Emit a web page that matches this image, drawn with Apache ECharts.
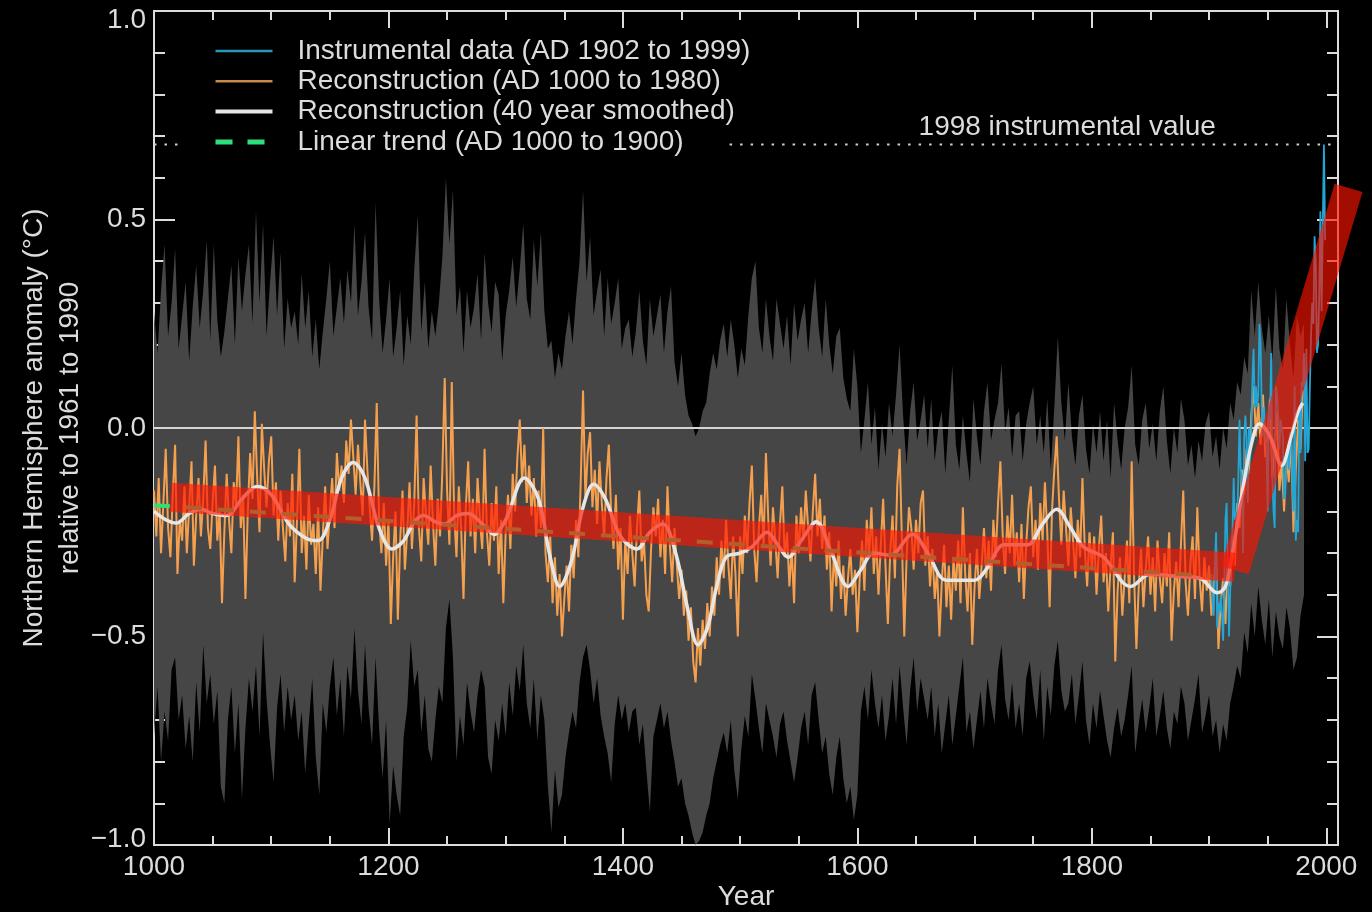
<!DOCTYPE html>
<html>
<head>
<meta charset="utf-8">
<title>Northern Hemisphere temperature reconstruction</title>
<script src="https://cdn.jsdelivr.net/npm/echarts@6/dist/echarts.min.js"></script>
<style>
  html, body { margin: 0; padding: 0; background: #000; }
  #chart { width: 1372px; height: 912px; }
</style>
</head>
<body>
<div id="chart"></div>
<script>
// ---- data -------------------------------------------------------------
const YEAR_MIN = 1000;
const YEAR_MAX = 2010;

// Annual reconstruction, sampled every 2 years from AD 1000 to 1980 (deg C)
const reconStart = 1000;
const reconStep = 2;
const recon = [
  -.15,-.26,-.12,-.30,-.18,-.05,-.24,-.31,-.16,-.04,-.35,-.22,-.27,-.14,-.30,-.19,-.08,-.33,-.21,-.12,-.26,-.17,-.03,-.24,-.29,
  -.18,-.09,-.27,-.20,-.42,-.25,-.11,-.22,-.30,-.13,-.19,-.02,-.24,-.16,-.41,-.20,-.06,-.17,.04,-.12,-.25,.01,-.10,-.19,-.08,
  -.02,-.21,-.13,-.27,-.15,-.24,-.32,-.18,-.26,-.11,-.37,-.22,-.05,-.30,-.21,-.34,-.16,-.28,-.23,-.35,-.19,-.39,-.26,-.14,-.29,
  -.20,-.12,-.24,-.06,-.15,-.09,-.18,-.03,-.11,.02,-.07,-.16,-.04,-.13,-.21,.02,-.10,-.19,-.27,-.14,.06,-.22,-.30,-.18,-.33,
  -.22,-.47,-.31,-.20,-.46,-.27,-.15,-.34,-.25,-.13,-.29,-.18,.03,-.24,-.32,-.12,-.21,-.28,-.09,-.23,-.33,-.17,-.26,-.10,.12,
  -.15,-.28,.11,-.20,-.31,-.14,-.24,-.41,-.19,-.08,-.26,-.17,-.30,-.12,-.22,-.29,-.05,-.25,-.33,-.18,-.27,-.14,-.35,-.22,-.42,
  -.25,-.16,-.29,-.11,-.20,-.07,.02,-.13,-.04,-.18,-.09,-.21,-.12,-.26,-.15,-.24,.00,-.30,-.37,-.26,-.42,-.31,-.45,-.35,-.50,
  -.41,-.33,-.44,-.28,-.36,-.22,-.31,-.13,.09,-.17,-.06,-.01,-.19,-.10,-.23,-.08,-.18,-.26,-.12,-.04,-.21,-.29,-.16,-.34,-.24,
  -.46,-.27,-.35,-.21,-.30,-.38,-.24,-.15,-.32,-.27,-.40,-.44,-.29,-.19,-.26,-.17,-.31,-.22,-.35,-.14,-.28,-.37,-.24,-.33,-.41,
  -.34,-.45,-.39,-.51,-.43,-.56,-.61,-.48,-.57,-.46,-.53,-.42,-.50,-.38,-.45,-.31,-.40,-.27,-.36,-.22,-.33,-.41,-.26,-.35,-.50,
  -.26,-.35,-.21,-.30,-.18,-.09,-.29,-.37,-.24,-.16,-.28,-.06,-.22,-.33,-.19,-.27,-.36,-.23,-.14,-.31,-.25,-.38,-.29,-.42,-.21,
  -.30,-.19,-.27,-.15,-.24,-.32,-.20,-.11,-.26,-.17,-.29,-.21,-.34,-.25,-.44,-.30,-.38,-.27,-.41,-.33,-.45,-.36,-.29,-.40,-.34,
  -.49,-.36,-.27,-.39,-.22,-.31,-.19,-.35,-.26,-.40,-.28,-.17,-.33,-.47,-.30,-.21,-.36,-.14,-.05,-.27,-.50,-.31,-.19,-.24,-.34,
  -.22,-.30,-.18,-.15,-.33,-.26,-.38,-.29,-.41,-.34,-.50,-.37,-.28,-.43,-.33,-.46,-.31,-.39,-.27,-.42,-.19,-.35,-.44,-.30,-.52,
  -.38,-.29,-.41,-.33,-.24,-.36,-.27,-.39,-.22,-.31,-.18,-.08,-.26,-.35,-.21,-.30,-.16,-.33,-.25,-.37,-.23,-.41,-.28,-.19,-.14,
  -.31,-.22,-.34,-.18,-.27,-.13,-.25,-.43,-.20,-.10,-.02,-.17,-.28,-.15,-.24,-.33,-.19,-.27,-.36,-.22,-.31,-.12,-.29,-.38,-.25,
  -.34,-.26,-.40,-.29,-.21,-.37,-.30,-.44,-.33,-.25,-.56,-.39,-.31,-.45,-.36,-.27,-.42,-.08,-.35,-.53,-.38,-.29,-.43,-.34,-.26,
  -.40,-.31,-.44,-.27,-.36,-.42,-.30,-.38,-.25,-.51,-.39,-.32,-.43,-.28,-.15,-.37,-.45,-.33,-.26,-.41,-.19,-.36,-.44,-.31,-.39,
  -.33,-.45,-.38,-.29,-.53,-.42,-.36,-.47,-.31,-.38,-.26,-.33,-.18,-.24,-.10,-.16,-.05,-.11,.03,.10,-.02,.06,-.04,.08,-.07,
  -.01,.07,-.12,-.05,.04,-.15,-.08,-.20,-.06,-.13,-.02,-.25,-.10,.02,-.05,.09
];

// Instrumental record, annual, AD 1902 to 1999 (deg C)
const instrStart = 1902;
const instrumental = [
  -.35,-.42,-.45,-.33,-.25,-.48,-.42,-.44,-.40,-.45,
  -.51,-.38,-.22,-.18,-.35,-.50,-.40,-.28,-.25,-.12,
  -.22,-.20,-.22,-.12,.02,-.10,-.12,-.30,-.02,.03,
  -.03,-.18,.00,-.08,-.02,.12,.19,.05,.10,.05,
  .08,.25,.20,.04,-.02,.05,-.02,-.05,-.20,.05,
  .02,.18,-.12,-.20,-.24,.10,.08,.03,-.05,.02,
  .00,-.02,-.17,-.16,-.06,-.05,-.10,-.01,-.02,-.12,
  -.20,.10,-.27,-.22,-.25,.05,-.06,.11,.10,.18,
  -.08,.19,-.06,-.05,.10,.22,.30,.25,.46,.40,
  .18,.20,.32,.52,.28,.48,.68,.45
];

// 40-year smoothed reconstruction: [year, deg C]
const smoothed = [
  [1000,-.20],[1010,-.22],[1019,-.228],[1030,-.205],[1040,-.195],[1050,-.205],[1062,-.21],[1075,-.17],
  [1088,-.14],[1100,-.16],[1115,-.23],[1130,-.265],[1140,-.27],[1150,-.22],[1160,-.12],[1170,-.083],
  [1180,-.12],[1192,-.24],[1203,-.29],[1213,-.27],[1222,-.225],[1230,-.21],[1240,-.225],[1248,-.23],
  [1258,-.21],[1268,-.205],[1280,-.23],[1290,-.255],[1300,-.22],[1316,-.12],[1328,-.17],[1338,-.31],
  [1346,-.38],[1356,-.32],[1366,-.19],[1375,-.135],[1385,-.17],[1398,-.26],[1412,-.29],[1423,-.25],
  [1434,-.23],[1445,-.30],[1455,-.43],[1464,-.52],[1472,-.48],[1480,-.38],[1488,-.31],[1500,-.30],
  [1510,-.285],[1523,-.25],[1532,-.28],[1541,-.31],[1552,-.27],[1565,-.225],[1578,-.30],[1592,-.38],
  [1603,-.34],[1614,-.30],[1628,-.305],[1647,-.255],[1660,-.30],[1676,-.365],[1700,-.365],[1711,-.335],
  [1725,-.28],[1745,-.28],[1758,-.23],[1770,-.195],[1782,-.24],[1793,-.285],[1810,-.31],[1833,-.38],
  [1850,-.35],[1870,-.355],[1892,-.36],[1907,-.395],[1914,-.38],[1920,-.30],[1928,-.16],[1936,-.04],
  [1943,.01],[1952,-.02],[1962,-.09],[1970,-.02],[1976,.04],[1980,.06]
];

// Uncertainty envelope, sampled every 3 years from AD 1000 (deg C)
const bandStart = 1000;
const bandStep = 3;
const bandUpper = [
  .28,.18,.33,.44,.22,.30,.43,.19,.27,.35,.16,.29,.39,.24,.33,.45,.21,.44,.26,.17,
  .23,.31,.39,.20,.41,.28,.37,.44,.25,.52,.30,.49,.22,.35,.46,.27,.42,.19,.31,.24,
  .28,.20,.37,.24,.33,.17,.26,.14,.23,.31,.40,.22,.29,.36,.25,.38,.30,.49,.27,.35,
  .47,.29,.21,.54,.31,.18,.26,.36,.17,.24,.33,.15,.27,.20,.38,.51,.23,.35,.19,.28,
  .22,.30,.41,.60,.44,.57,.27,.34,.18,.33,.24,.29,.37,.21,.42,.30,.23,.35,.32,.16,
  .27,.33,.41,.29,.38,.49,.31,.26,.45,.34,.47,.28,.19,.21,.12,.18,.14,.22,.28,.20,
  .31,.40,.57,.35,.46,.27,.33,.38,.22,.36,.25,.30,.36,.19,.24,.26,.17,.23,.33,.21,
  .15,.31,.22,.27,.32,.18,.28,.34,.16,.10,.18,.08,.03,.01,-.02,.00,.04,.06,.13,.18,
  .14,.21,.25,.17,.26,.20,.12,.19,.15,.27,.36,.40,.24,.18,.31,.22,.16,.31,.25,.19,
  .27,.15,.30,.21,.26,.30,.18,.28,.36,.24,.17,.31,.20,.13,.22,.24,.12,.07,.04,.19,
  .10,-.06,.02,.11,-.04,.05,-.10,.01,-.07,.06,-.02,.08,.20,.03,-.09,.04,.11,-.03,.02,.08,
  -.05,.07,-.08,.00,.04,-.11,.02,.15,-.04,-.10,.03,-.06,-.13,.07,-.02,-.09,.04,.11,-.03,.02,
  .06,.155,-.01,.05,-.07,.03,.04,-.08,.01,.06,.10,-.04,.03,-.06,.07,-.10,.05,.22,.06,-.03,
  .11,-.02,-.09,.03,.08,-.05,-.11,.01,-.06,.04,-.08,.02,-.12,.06,-.03,-.10,.00,.05,.15,-.04,
  -.09,.02,.06,-.05,.01,-.08,.04,.10,-.03,-.11,.00,-.06,.07,.02,-.09,-.04,-.12,-.03,-.08,.01,
  .04,-.07,-.02,-.10,.00,-.05,.06,.02,.11,.08,.17,.13,.33,.22,.35,.24,.18,.27,.16,.34,
  .19,.14,.31,.20,.12,.27,.22,.25
];
const bandLower = [
  -.74,-.62,-.80,-.68,-.75,-.58,-.55,-.70,-.64,-.77,-.69,-.80,-.61,-.73,-.52,-.66,-.59,-.71,-.63,-.86,
  -.90,-.70,-.62,-.78,-.66,-.89,-.72,-.60,-.68,-.57,-.74,-.49,-.65,-.76,-.85,-.67,-.59,-.73,-.62,-.70,
  -.64,-.75,-.68,-.83,-.71,-.60,-.79,-.88,-.66,-.73,-.62,-.55,-.69,-.60,-.74,-.57,-.65,-.48,-.63,-.71,
  -.52,-.67,-.76,-.55,-.72,-.84,-.70,-.95,-.81,-.88,-.93,-.74,-.67,-.51,-.62,-.58,-.73,-.64,-.77,-.80,
  -.70,-.62,-.66,-.48,-.41,-.55,-.80,-.69,-.76,-.61,-.68,-.73,-.64,-.58,-.62,-.79,-.83,-.70,-.75,-.66,
  -.74,-.61,-.69,-.57,-.63,-.52,-.66,-.72,-.60,-.75,-.64,-.70,-.86,-.97,-.82,-.91,-.88,-.79,-.73,-.68,
  -.72,-.61,-.55,-.52,-.58,-.66,-.60,-.69,-.74,-.78,-.85,-.71,-.64,-.70,-.66,-.73,-.68,-.67,-.76,-.71,
  -.82,-.92,-.74,-.70,-.66,-.72,-.68,-.75,-.80,-.86,-.84,-.90,-.93,-.97,-1.0,-.99,-.97,-.93,-.90,-.84,
  -.80,-.76,-.73,-.78,-.70,-.82,-.89,-.77,-.69,-.74,-.59,-.65,-.72,-.78,-.66,-.70,-.74,-.79,-.71,-.68,
  -.75,-.80,-.85,-.79,-.72,-.68,-.76,-.64,-.61,-.70,-.78,-.74,-.83,-.88,-.79,-.74,-.84,-.90,-.86,-.94,
  -.88,-.68,-.62,-.70,-.58,-.66,-.72,-.64,-.75,-.69,-.60,-.71,-.57,-.67,-.76,-.63,-.55,-.68,-.60,-.65,
  -.70,-.62,-.74,-.66,-.78,-.71,-.64,-.76,-.69,-.62,-.55,-.73,-.68,-.77,-.70,-.63,-.72,-.60,-.66,-.71,
  -.58,-.52,-.65,-.70,-.61,-.72,-.66,-.74,-.60,-.56,-.64,-.70,-.58,-.75,-.62,-.69,-.57,-.51,-.63,-.68,
  -.66,-.59,-.71,-.64,-.56,-.70,-.76,-.66,-.72,-.63,-.69,-.75,-.79,-.72,-.67,-.74,-.70,-.64,-.57,-.78,
  -.71,-.65,-.73,-.67,-.60,-.74,-.69,-.63,-.72,-.77,-.68,-.71,-.62,-.66,-.75,-.70,-.65,-.59,-.73,-.69,
  -.64,-.74,-.70,-.78,-.71,-.75,-.66,-.62,-.57,-.60,-.49,-.54,-.42,-.50,-.38,-.46,-.52,-.41,-.55,-.44,
  -.50,-.53,-.43,-.48,-.58,-.55,-.45,-.40
];

// Linear trend AD 1000 to 1900: [year, deg C]
const trend = [[1000, -0.185], [1900, -0.355]];

// Highlight overlay: the flat "shaft" and the rising "blade", each [start, end]
const stickShaft = [[1014, -0.166], [1922, -0.334]];
const stickBlade = [[1922, -0.341], [2019, 0.576]];

// Axis tick intervals
const yearMajor = 200, yearMinor = 50;
const tempMajor = 0.5, tempMinor = 0.1;

// ---- names and style ---------------------------------------------------
const N_INSTR = 'Instrumental data (AD 1902 to 1999)';
const N_RECON = 'Reconstruction (AD 1000 to 1980)';
const N_SMOOTH = 'Reconstruction (40 year smoothed)';
const N_TREND = 'Linear trend (AD 1000 to 1900)';

const FONT = '"Liberation Sans", Arial, Helvetica, sans-serif';
const INK = '#dcdcdc';
const C_INSTR = '#22a6d6';
const C_RECON = '#f5a04f';
const C_SMOOTH = '#e6e6e6';
const C_TREND = '#2ee07a';
const C_BAND = '#464646';
const C_STICK = 'rgba(255,20,0,0.64)';
const STICK_HALF_WIDTH = 14.5;

const reconData = recon.map((v, i) => [reconStart + i * reconStep, v]);
const instrData = instrumental.map((v, i) => [instrStart + i, v]);
const value1998 = instrumental[1998 - instrStart];

const tickStyle = { color: INK, width: 2 };
const lineStyleAxis = { color: INK, width: 2 };
const labelFont = { color: INK, fontSize: 28, fontFamily: FONT };

function xAxisDef(position, interval, len, withLine, withLabels) {
  const a = {
    type: 'value', position, min: YEAR_MIN, max: YEAR_MAX, interval,
    splitLine: { show: false },
    axisLine: { show: withLine, onZero: false, lineStyle: lineStyleAxis },
    axisTick: { show: true, inside: true, length: len, lineStyle: tickStyle },
    axisLabel: { show: false }
  };
  if (withLabels) {
    a.axisLabel = Object.assign({ show: true, margin: 8, showMinLabel: true, showMaxLabel: false,
                                  formatter: v => String(v) }, labelFont);
    a.name = 'Year';
    a.nameLocation = 'middle';
    a.nameGap = 38;
    a.nameMoveOverlap = false;
    a.nameTextStyle = Object.assign({}, labelFont);
  }
  return a;
}

function yAxisDef(position, interval, len, withLine, withLabels) {
  const a = {
    type: 'value', position, min: -1, max: 1, interval,
    splitLine: { show: false },
    axisLine: { show: withLine, onZero: false, lineStyle: lineStyleAxis },
    axisTick: { show: true, inside: true, length: len, lineStyle: tickStyle },
    axisLabel: { show: false }
  };
  if (withLabels) {
    a.axisLabel = Object.assign({
      show: true, margin: 8,
      // end labels sit just inside the frame
      formatter: v => {
        const t = (v < 0 ? '\u2212' : '') + Math.abs(v).toFixed(1);
        if (v >= 1) return '{top|' + t + '}';
        if (v <= -1) return '{bot|' + t + '}';
        return t;
      },
      rich: {
        top: Object.assign({ padding: [18, 0, 0, 0] }, labelFont),
        bot: Object.assign({ padding: [0, 0, 12, 0] }, labelFont)
      }
    }, labelFont);
    a.name = 'Northern Hemisphere anomaly (\u00B0C)\nrelative to 1961 to 1990';
    a.nameLocation = 'middle';
    a.nameRotate = 90;
    a.nameGap = 66;
    a.nameMoveOverlap = false;
    a.nameTextStyle = Object.assign({ lineHeight: 36 }, labelFont);
  }
  return a;
}

// thick translucent bar between two data points, with square ends
function stickSeries(name, seg) {
  return {
    type: 'custom', name, silent: true, z: 8, clip: false,
    data: [[seg[0][0], seg[0][1]]],
    renderItem: function (params, api) {
      const a = api.coord(seg[0]);
      const b = api.coord(seg[1]);
      const dx = b[0] - a[0], dy = b[1] - a[1];
      const len = Math.sqrt(dx * dx + dy * dy);
      const nx = -dy / len * STICK_HALF_WIDTH, ny = dx / len * STICK_HALF_WIDTH;
      return {
        type: 'polygon',
        shape: { points: [[a[0] + nx, a[1] + ny], [b[0] + nx, b[1] + ny], [b[0] - nx, b[1] - ny], [a[0] - nx, a[1] - ny]] },
        style: { fill: C_STICK }
      };
    }
  };
}

const chart = echarts.init(document.getElementById('chart'), null, { renderer: 'canvas' });

chart.setOption({
  backgroundColor: '#000',
  animation: false,
  grid: { left: 154, right: 34, top: 11, bottom: 67, containLabel: false, outerBoundsMode: 'none' },
  xAxis: [
    xAxisDef('bottom', yearMajor, 17, true, true),
    xAxisDef('bottom', yearMinor, 9, false, false),
    xAxisDef('top', yearMajor, 17, true, false),
    xAxisDef('top', yearMinor, 9, false, false)
  ],
  yAxis: [
    yAxisDef('left', tempMajor, 21, true, true),
    yAxisDef('left', tempMinor, 11, false, false),
    yAxisDef('right', tempMajor, 21, true, false),
    yAxisDef('right', tempMinor, 11, false, false)
  ],
  legend: {
    orient: 'vertical', left: 213, top: 36, padding: 0, itemGap: 0.3,
    itemWidth: 57, itemHeight: 14, selectedMode: false,
    textStyle: Object.assign({ lineHeight: 30, padding: [0, 0, 0, 20] }, labelFont),
    data: [
      { name: N_INSTR, itemStyle: { opacity: 0 }, lineStyle: { color: '#2a96bd', width: 2.5 } },
      { name: N_RECON, itemStyle: { opacity: 0 }, lineStyle: { color: '#c58a4c', width: 2.5 } },
      { name: N_SMOOTH, itemStyle: { opacity: 0 }, lineStyle: { color: C_SMOOTH, width: 4 } },
      { name: N_TREND, itemStyle: { opacity: 0 }, lineStyle: { color: C_TREND, width: 5, type: [17, 15] } }
    ]
  },
  series: [
    {
      // uncertainty envelope drawn as one filled polygon
      type: 'custom', name: 'uncertainty', silent: true, z: 1,
      data: [[bandStart, 0]],
      renderItem: function (params, api) {
        const pts = [];
        for (let i = 0; i < bandUpper.length; i++) {
          pts.push(api.coord([bandStart + i * bandStep, bandUpper[i]]));
        }
        for (let i = bandLower.length - 1; i >= 0; i--) {
          pts.push(api.coord([bandStart + i * bandStep, bandLower[i]]));
        }
        return { type: 'polygon', shape: { points: pts }, style: { fill: C_BAND } };
      }
    },
    {
      type: 'line', name: 'zero', silent: true, z: 2, symbol: 'none',
      data: [[YEAR_MIN, 0], [YEAR_MAX, 0]],
      lineStyle: { color: '#d4d4d4', width: 2 }
    },
    {
      type: 'line', name: N_RECON, z: 3, symbol: 'none', silent: true,
      data: reconData,
      lineStyle: { color: C_RECON, width: 2 }
    },
    {
      type: 'line', name: N_INSTR, z: 4, symbol: 'none', silent: true,
      data: instrData,
      lineStyle: { color: C_INSTR, width: 1.8 }
    },
    {
      type: 'line', name: N_SMOOTH, z: 5, symbol: 'none', silent: true, smooth: 0.35,
      data: smoothed,
      lineStyle: { color: C_SMOOTH, width: 3.5 }
    },
    {
      type: 'line', name: N_TREND, z: 6, symbol: 'none', silent: true,
      data: trend,
      lineStyle: { color: C_TREND, width: 4, type: [16, 16] }
    },
    {
      type: 'line', name: '1998 level', z: 6, symbol: 'none', silent: true,
      data: [[YEAR_MIN, value1998], [1022, value1998], [1200, '-'], [1491, value1998], [YEAR_MAX, value1998]],
      connectNulls: false,
      lineStyle: { color: '#cfcfcf', width: 2, type: [2.5, 8] }
    },
    {
      type: 'scatter', name: '1998 label', z: 7, silent: true, symbolSize: 0,
      itemStyle: { opacity: 1 },
      data: [[1779, value1998]],
      label: Object.assign({
        show: true, position: 'top', distance: 3, opacity: 1,
        formatter: '1998 instrumental value'
      }, labelFont)
    },
    stickSeries('shaft', stickShaft),
    stickSeries('blade', stickBlade)
  ]
});
</script>
</body>
</html>
